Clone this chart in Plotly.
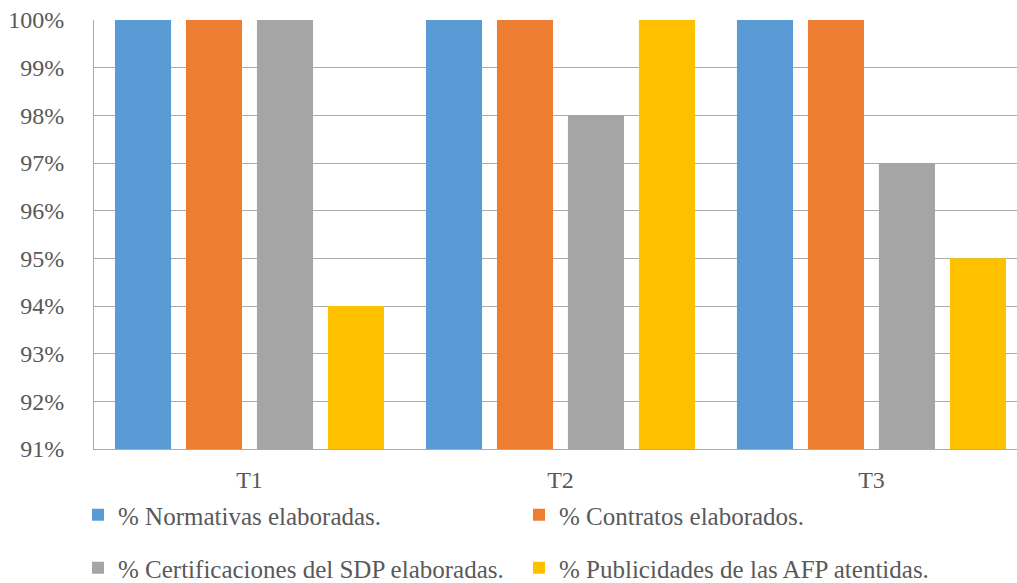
import plotly.graph_objects as go

categories = ["T1", "T2", "T3"]
series_names = [
    "% Normativas elaboradas.",
    "% Contratos elaborados.",
    "% Certificaciones del SDP elaboradas.",
    "% Publicidades de las AFP atentidas.",
]
normativas = [100, 100, 100]
contratos = [100, 100, 100]
certificaciones = [100, 98, 97]
publicidades = [94, 100, 95]
y_ticks = [91, 92, 93, 94, 95, 96, 97, 98, 99, 100]
y_tick_text = ["91%", "92%", "93%", "94%", "95%", "96%", "97%", "98%", "99%", "100%"]

colors = ["#5B9BD5", "#ED7D31", "#A5A5A5", "#FFC000"]
values = [normativas, contratos, certificaciones, publicidades]
legend_ids = ["legend", "legend", "legend2", "legend2"]

FONT = "Liberation Serif"
TEXT = "#595959"
GRID = "#ABABAB"

fig = go.Figure()
for name, vals, col, lg in zip(series_names, values, colors, legend_ids):
    fig.add_trace(go.Bar(
        x=categories, y=vals, name=name,
        marker=dict(color=col, line=dict(width=0)),
        legend=lg,
    ))

legend_common = dict(
    orientation="h",
    xref="container", yref="container",
    xanchor="left", yanchor="middle",
    font=dict(family=FONT, size=25, color=TEXT),
    entrywidth=396, entrywidthmode="pixels",
    bgcolor="rgba(0,0,0,0)",
)

fig.update_layout(
    width=1017, height=583,
    margin=dict(l=94, r=0, t=20, b=134, autoexpand=False),
    paper_bgcolor="white", plot_bgcolor="white",
    barmode="group", bargap=0.087, bargroupgap=0.21,
    font=dict(family=FONT, size=24, color=TEXT),
    legend=dict(x=78 / 1017, y=1 - 515 / 583, **legend_common),
    legend2=dict(x=78 / 1017, y=1 - 568 / 583, **legend_common),
    xaxis=dict(
        range=[-0.5, 2.468], automargin=False,
        showgrid=False, showline=True, linecolor=GRID, linewidth=1,
        ticks="", tickfont=dict(family=FONT, size=24, color=TEXT),
        ticklabelstandoff=9,
    ),
    yaxis=dict(
        range=[91, 100], tickmode="array", tickvals=y_ticks, ticktext=y_tick_text,
        automargin=False,
        showgrid=True, gridcolor=GRID, gridwidth=1,
        showline=True, linecolor=GRID, linewidth=1,
        zeroline=False, ticks="",
        tickfont=dict(family=FONT, size=24, color=TEXT),
        ticklabelstandoff=24,
    ),
)

fig.write_html("out.html")
